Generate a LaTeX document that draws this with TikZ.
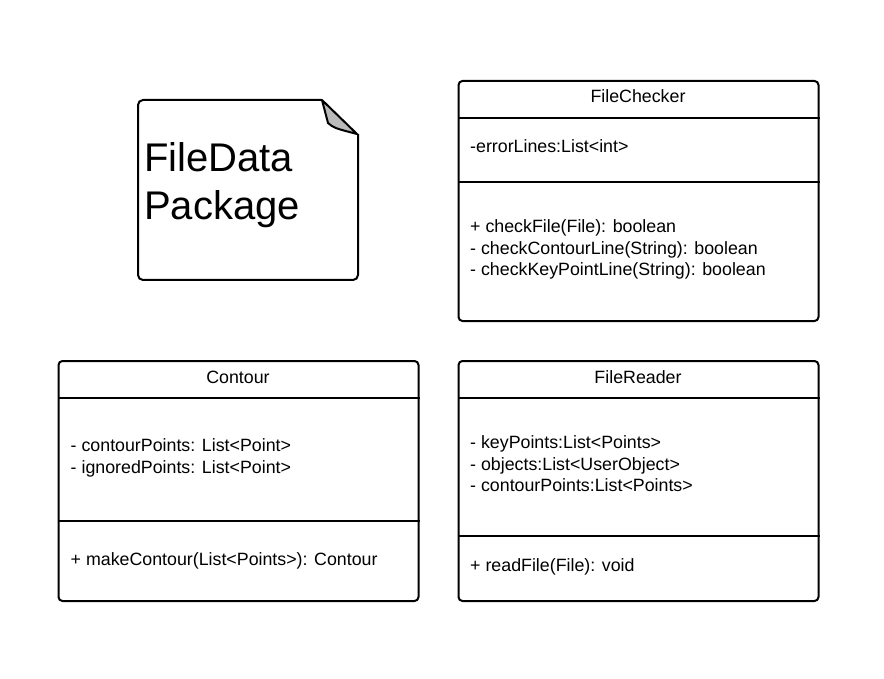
\documentclass[tikz,border=0pt]{standalone}
\usepackage{fontspec}
\setmainfont{Liberation Sans}
\begin{document}
\begin{tikzpicture}[x=1pt,y=-1pt,
  umlbox/.style={draw, line width=2pt, rounded corners=4pt, minimum width=360pt, minimum height=240pt, anchor=north west, inner sep=0pt},
  lbl/.style={anchor=base west, inner sep=0pt, font=\fontsize{17.8}{21}\selectfont},
  ttl/.style={anchor=base, inner sep=0pt, font=\fontsize{17.8}{21}\selectfont},
  big/.style={anchor=base west, inner sep=0pt, font=\fontsize{40}{48}\selectfont},
  sepline/.style={line width=2pt},
  fold/.style={line width=2pt, fill=black!27, line join=round}]
\useasboundingbox (0,0) rectangle (884,679);
\fill[white] (0,0) rectangle (884,679);

% Package note
\draw[line width=2pt, rounded corners=5pt] (322,100) -- (138,100) -- (138,280) -- (358,280) -- (358,134);
\draw[fold] (322,100) -- (328,123) .. controls (334,128) .. (357,134) -- cycle;
\node[big] (pk1) at (144,172) {FileData};
\node[big] (pk2) at (144,220) {Package};

% FileChecker
\node[umlbox] (fc) at (457.5,80) {};
\draw[sepline] ([yshift=-38pt]fc.north west) -- ([yshift=-38pt]fc.north east);
\draw[sepline] ([yshift=-102pt]fc.north west) -- ([yshift=-102pt]fc.north east);
\node[ttl] (fct) at (638,103) {FileChecker};
\node[lbl] (fca) at (470,153) {-errorLines:List<int>};
\node[lbl] (fcm1) at (470,232.5) {+ checkFile(File): boolean};
\node[lbl] (fcm2) at (470,254.2) {- checkContourLine(String): boolean};
\node[lbl] (fcm3) at (470,275.9) {- checkKeyPointLine(String): boolean};

% Contour
\node[umlbox] (ct) at (57.5,360) {};
\draw[sepline] ([yshift=-38pt]ct.north west) -- ([yshift=-38pt]ct.north east);
\draw[sepline] ([yshift=-161pt]ct.north west) -- ([yshift=-161pt]ct.north east);
\node[ttl] (ctt) at (238,383) {Contour};
\node[lbl] (cta1) at (70.5,451.7) {- contourPoints: List<Point>};
\node[lbl] (cta2) at (70.5,473.4) {- ignoredPoints: List<Point>};
\node[lbl] (ctm1) at (70.5,565) {+ makeContour(List<Points>): Contour};

% FileReader
\node[umlbox] (fr) at (457.5,360) {};
\draw[sepline] ([yshift=-38pt]fr.north west) -- ([yshift=-38pt]fr.north east);
\draw[sepline] ([yshift=-176pt]fr.north west) -- ([yshift=-176pt]fr.north east);
\node[ttl] (frt) at (638,383) {FileReader};
\node[lbl] (fra1) at (470,448.3) {- keyPoints:List<Points>};
\node[lbl] (fra2) at (470,470) {- objects:List<UserObject>};
\node[lbl] (fra3) at (470,491.7) {- contourPoints:List<Points>};
\node[lbl] (frm1) at (470,571.7) {+ readFile(File): void};
\end{tikzpicture}
\end{document}
